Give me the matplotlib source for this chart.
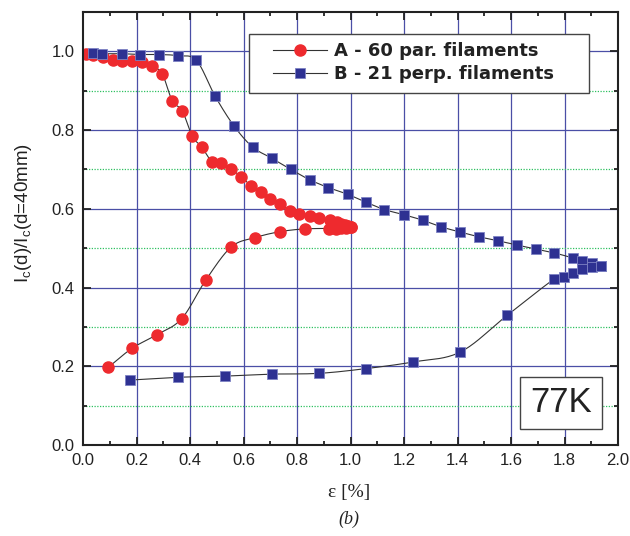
import numpy as np
import matplotlib
matplotlib.use("Agg")
import matplotlib.pyplot as plt
from matplotlib.ticker import MultipleLocator, FormatStrFormatter
from matplotlib.patches import Rectangle

# --- measured data: normalised critical current vs. bending strain ---
# Sample A (60 parallel filaments), branch measured while bending
a_bend_x = [0.010, 0.039, 0.074, 0.111, 0.146, 0.184, 0.221, 0.259, 0.296, 0.334,
            0.371, 0.409, 0.444, 0.482, 0.517, 0.554, 0.592, 0.627, 0.664, 0.699,
            0.737, 0.774, 0.809, 0.847, 0.884, 0.922, 0.950, 0.966, 0.980, 0.992, 1.002]
a_bend_y = [0.994, 0.991, 0.986, 0.979, 0.975, 0.975, 0.972, 0.962, 0.943, 0.874,
            0.849, 0.784, 0.757, 0.720, 0.717, 0.701, 0.681, 0.659, 0.642, 0.624,
            0.613, 0.595, 0.588, 0.583, 0.576, 0.571, 0.566, 0.562, 0.559, 0.557, 0.555]
# Sample A, branch measured after straightening
a_back_x = [0.094, 0.184, 0.276, 0.369, 0.459, 0.554, 0.644, 0.737, 0.829, 0.920,
            0.945, 0.965, 0.985, 1.002]
a_back_y = [0.197, 0.246, 0.280, 0.321, 0.419, 0.503, 0.527, 0.542, 0.549, 0.550,
            0.550, 0.551, 0.552, 0.555]

# Sample B (21 perpendicular filaments), branch measured while bending
b_bend_x = [0.036, 0.071, 0.144, 0.214, 0.284, 0.354, 0.424, 0.494, 0.564, 0.634,
            0.707, 0.777, 0.847, 0.917, 0.989, 1.057, 1.127, 1.200, 1.270, 1.340,
            1.410, 1.480, 1.550, 1.622, 1.692, 1.762, 1.832, 1.867, 1.902, 1.937]
b_bend_y = [0.996, 0.994, 0.994, 0.992, 0.992, 0.989, 0.977, 0.886, 0.811, 0.757,
            0.728, 0.700, 0.674, 0.654, 0.637, 0.617, 0.598, 0.585, 0.571, 0.554,
            0.541, 0.529, 0.519, 0.508, 0.498, 0.488, 0.475, 0.468, 0.463, 0.456]
# Sample B, branch measured after straightening
b_back_x = [0.176, 0.354, 0.529, 0.707, 0.882, 1.057, 1.235, 1.410, 1.585, 1.762,
            1.797, 1.832, 1.867, 1.902, 1.937]
b_back_y = [0.165, 0.172, 0.175, 0.180, 0.182, 0.194, 0.211, 0.236, 0.329, 0.422,
            0.427, 0.437, 0.446, 0.451, 0.456]

legend_a = "A - 60 par. filaments"
legend_b = "B - 21 perp. filaments"
temperature = "77K"

RED = "#ee2a2e"
BLUE = "#2e3192"
BLUE_EDGE = "#7d82c4"
GRID_BLUE = "#4a4fa6"
GRID_GREEN = "#2fc060"
INK = "#222222"


def smooth(x, y, n=20):
    """Catmull-Rom curve through the points, used for the guide line."""
    x = np.asarray(x, float)
    y = np.asarray(y, float)
    px = np.concatenate([[2 * x[0] - x[1]], x, [2 * x[-1] - x[-2]]])
    py = np.concatenate([[2 * y[0] - y[1]], y, [2 * y[-1] - y[-2]]])
    t = np.linspace(0, 1, n, endpoint=False)[:, None]
    segs_x, segs_y = [], []
    for i in range(1, len(px) - 2):
        for p, out in ((px, segs_x), (py, segs_y)):
            p0, p1, p2, p3 = p[i - 1], p[i], p[i + 1], p[i + 2]
            out.append((0.5 * ((2 * p1) + (-p0 + p2) * t + (2 * p0 - 5 * p1 + 4 * p2 - p3) * t ** 2
                               + (-p0 + 3 * p1 - 3 * p2 + p3) * t ** 3)).ravel())
    return (np.concatenate(segs_x + [[x[-1]]]), np.concatenate(segs_y + [[y[-1]]]))


plt.rcParams["font.family"] = ["Liberation Sans", "DejaVu Sans"]

W, H = 630, 536
fig = plt.figure(figsize=(W / 100, H / 100), dpi=100)
ax = fig.add_axes([83 / W, 1 - 445 / H, (618 - 83) / W, (445 - 12) / H])

ax.set_xlim(0, 2.0)
ax.set_ylim(0, 1.1)

# grid: solid blue at 0.2 steps, dotted green halfway between on y
for gx in np.arange(0.2, 2.0, 0.2):
    ax.axvline(gx, color=GRID_BLUE, lw=0.9, zorder=0.5)
for gy in np.arange(0.2, 1.01, 0.2):
    ax.axhline(gy, color=GRID_BLUE, lw=0.9, zorder=0.5)
for gy in np.arange(0.1, 1.0, 0.2):
    ax.axhline(gy, color=GRID_GREEN, lw=0.9, ls=(0, (1, 1.2)), zorder=0.5)

# guide curves
for xs, ys in ((a_bend_x, a_bend_y), (a_back_x, a_back_y),
               (b_bend_x, b_bend_y), (b_back_x, b_back_y)):
    sx, sy = smooth(xs, ys)
    ax.plot(sx, sy, color="#333333", lw=0.8, zorder=2)

ms_circ = 8
ms_sq = 7
ax.plot(a_bend_x, a_bend_y, "o", color=RED, mec=RED, ms=ms_circ, zorder=3)
ax.plot(a_back_x, a_back_y, "o", color=RED, mec=RED, ms=ms_circ, zorder=3)
ax.plot(b_bend_x, b_bend_y, "s", color=BLUE, mec=BLUE_EDGE, mew=0.6, ms=ms_sq, zorder=4)
ax.plot(b_back_x, b_back_y, "s", color=BLUE, mec=BLUE_EDGE, mew=0.6, ms=ms_sq, zorder=4)

# legend: white framed box with the entries placed inside it
box = Rectangle((249 / W, 1 - 93 / H), 340 / W, 59 / H, transform=fig.transFigure,
                fc="white", ec="#444444", lw=1.0, zorder=9, clip_on=False)
ax.add_patch(box)
ha, = ax.plot([], [], "-o", color="#333333", lw=0.8, mfc=RED, mec=RED, ms=ms_circ)
hb, = ax.plot([], [], "-s", color="#333333", lw=0.8, mfc=BLUE, mec=BLUE_EDGE, mew=0.6, ms=ms_sq)
leg = ax.legend([ha, hb], [legend_a, legend_b], loc="upper left",
                bbox_to_anchor=(273 / W, 1 - 42 / H), bbox_transform=fig.transFigure,
                borderaxespad=0, borderpad=0, frameon=False,
                prop={"family": "DejaVu Sans", "weight": "bold", "size": 13},
                handlelength=3.0, handletextpad=0.4, labelspacing=0.3)
leg.set_zorder(10)
for t in leg.get_texts():
    t.set_color(INK)

# temperature box
ax.text(561 / W, 1 - 403 / H, temperature, transform=fig.transFigure,
        ha="center", va="center", fontsize=25, color=INK, zorder=10,
        bbox=dict(boxstyle="square,pad=0.28", fc="white", ec="#444444", lw=1.0))

# ticks
ax.xaxis.set_major_locator(MultipleLocator(0.2))
ax.xaxis.set_minor_locator(MultipleLocator(0.1))
ax.yaxis.set_major_locator(MultipleLocator(0.2))
ax.yaxis.set_minor_locator(MultipleLocator(0.1))
ax.tick_params(which="both", direction="in", top=True, right=True, width=1.3, color=INK)
ax.tick_params(which="major", length=5.5, labelsize=12, labelcolor=INK, pad=6)
ax.tick_params(which="minor", length=3.2)
ax.xaxis.set_major_formatter(FormatStrFormatter("%.1f"))
ax.yaxis.set_major_formatter(FormatStrFormatter("%.1f"))
for s in ax.spines.values():
    s.set_linewidth(1.5)
    s.set_color(INK)
    s.set_zorder(6)

fig.text(23 / W, 1 - 213 / H, r"I$_\mathregular{c}$(d)/I$_\mathregular{c}$(d=40mm)",
         rotation=90, ha="center", va="center", fontsize=13.5, color=INK)
fig.text(349 / W, 1 - 492 / H, "ε [%]", ha="center", va="center", fontsize=14,
         family=["Liberation Serif", "DejaVu Serif"], color=INK)
fig.text(349 / W, 1 - 519 / H, "(b)", ha="center", va="center", fontsize=13,
         family=["Liberation Serif", "DejaVu Serif"], style="italic", color=INK)

fig.savefig("out.png", dpi=100)
